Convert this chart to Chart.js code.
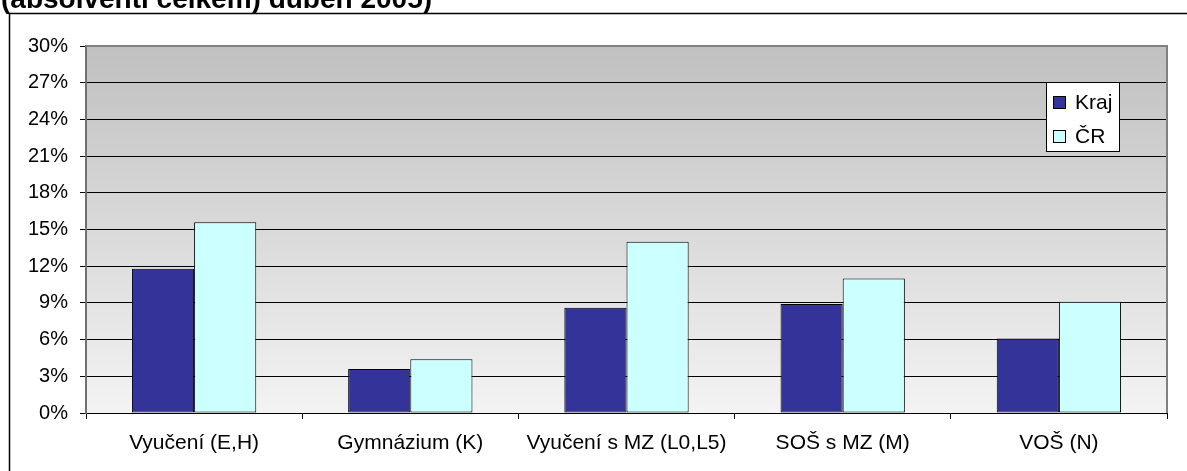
<!DOCTYPE html>
<html>
<head>
<meta charset="utf-8">
<script src="https://cdn.jsdelivr.net/npm/chart.js@4/dist/chart.umd.min.js"></script>
<style>
html,body{margin:0;padding:0;background:#fff;}
#wrap{width:1187px;height:471px;position:relative;}
</style>
</head>
<body>
<div id="wrap"><canvas id="c" width="1187" height="471"></canvas></div>
<script>
const titleText = "(absolventi celkem) duben 2005)";
const categories = ["Vyučení (E,H)", "Gymnázium (K)", "Vyučení s MZ (L0,L5)", "SOŠ s MZ (M)", "VOŠ (N)"];
const seriesNames = ["Kraj", "ČR"];
const krajValues = [11.8, 3.6, 8.6, 8.9, 6.1];
const crValues = [15.6, 4.4, 14.0, 11.0, 9.1];
const yTicks = [0, 3, 6, 9, 12, 15, 18, 21, 24, 27, 30];

const FONT = "'Liberation Sans', Arial, sans-serif";

const decorPlugin = {
  id: 'decor',
  beforeDraw(chart) {
    const ctx = chart.ctx;
    const a = chart.chartArea;
    ctx.save();
    ctx.fillStyle = '#fff';
    ctx.fillRect(0, 0, chart.width, chart.height);
    // outer frame
    ctx.strokeStyle = '#000';
    ctx.lineWidth = 1.5;
    ctx.strokeRect(9.5, 13.5, chart.width + 20, chart.height + 20);
    // title (partially cut off at top)
    ctx.fillStyle = '#000';
    ctx.font = "bold 28px " + FONT;
    ctx.textBaseline = 'alphabetic';
    ctx.fillText(titleText, 1, 8);
    // plot area gradient
    const g = ctx.createLinearGradient(0, a.top, 0, a.bottom);
    g.addColorStop(0, '#c0c0c0');
    g.addColorStop(1, '#f3f3f3');
    ctx.fillStyle = g;
    ctx.fillRect(a.left, a.top, a.right - a.left, a.bottom - a.top);
    ctx.restore();
  },
  afterDatasetsDraw(chart) {
    const ctx = chart.ctx;
    const a = chart.chartArea;
    ctx.save();
    // plot area border (top/right) gray
    ctx.strokeStyle = '#808080';
    ctx.lineWidth = 2;
    ctx.beginPath();
    ctx.moveTo(a.left, a.top);
    ctx.lineTo(a.right, a.top);
    ctx.lineTo(a.right, a.bottom);
    ctx.stroke();
    // legend
    const lx = 1046, ly = 82, lw = 73, lh = 69;
    ctx.fillStyle = '#fff';
    ctx.fillRect(lx, ly, lw, lh);
    ctx.strokeStyle = '#000';
    ctx.lineWidth = 1;
    ctx.strokeRect(lx + 0.5, ly + 0.5, lw, lh);
    ctx.font = "21px " + FONT;
    ctx.textBaseline = 'middle';
    chart.data.datasets.forEach((ds, i) => {
      const cy = ly + 20 + i * 34;
      ctx.fillStyle = ds.backgroundColor;
      ctx.fillRect(lx + 7.5, cy - 5.5, 12, 12);
      ctx.strokeStyle = '#000';
      ctx.strokeRect(lx + 7.5, cy - 5.5, 12, 12);
      ctx.fillStyle = '#000';
      ctx.fillText(ds.label, lx + 29, cy + 1);
    });
    ctx.restore();
  }
};

new Chart(document.getElementById('c'), {
  type: 'bar',
  data: {
    labels: categories,
    datasets: [
      { label: seriesNames[0], data: krajValues, backgroundColor: '#333399', borderColor: '#000', borderWidth: 1, borderSkipped: false },
      { label: seriesNames[1], data: crValues, backgroundColor: '#CCFFFF', borderColor: '#000', borderWidth: 1, borderSkipped: false }
    ]
  },
  options: {
    responsive: false,
    animation: false,
    devicePixelRatio: 1,
    layout: { padding: { left: 0, right: 20, top: 46, bottom: 0 } },
    plugins: { legend: { display: false }, tooltip: { enabled: false }, title: { display: false } },
    datasets: { bar: { categoryPercentage: 0.575, barPercentage: 1.0 } },
    scales: {
      x: {
        afterFit(s) { s.height = 58; },
        grid: { display: true, drawOnChartArea: false, offset: true, color: '#000', tickColor: '#000', tickLength: 6 },
        border: { display: true, color: '#000', width: 1 },
        ticks: { color: '#000', font: { family: FONT, size: 21 }, padding: 12, maxRotation: 0, autoSkip: false }
      },
      y: {
        min: 0, max: 30,
        afterFit(s) { s.width = 86; },
        afterBuildTicks(s) { s.ticks = yTicks.map(v => ({ value: v })); },
        grid: { color: '#000', tickColor: '#000', tickLength: 6, lineWidth: 1 },
        border: { display: true, color: '#707070', width: 2 },
        ticks: { color: '#000', font: { family: FONT, size: 20 }, padding: 12, callback: v => v + '%' }
      }
    }
  },
  plugins: [decorPlugin]
});
</script>
</body>
</html>
